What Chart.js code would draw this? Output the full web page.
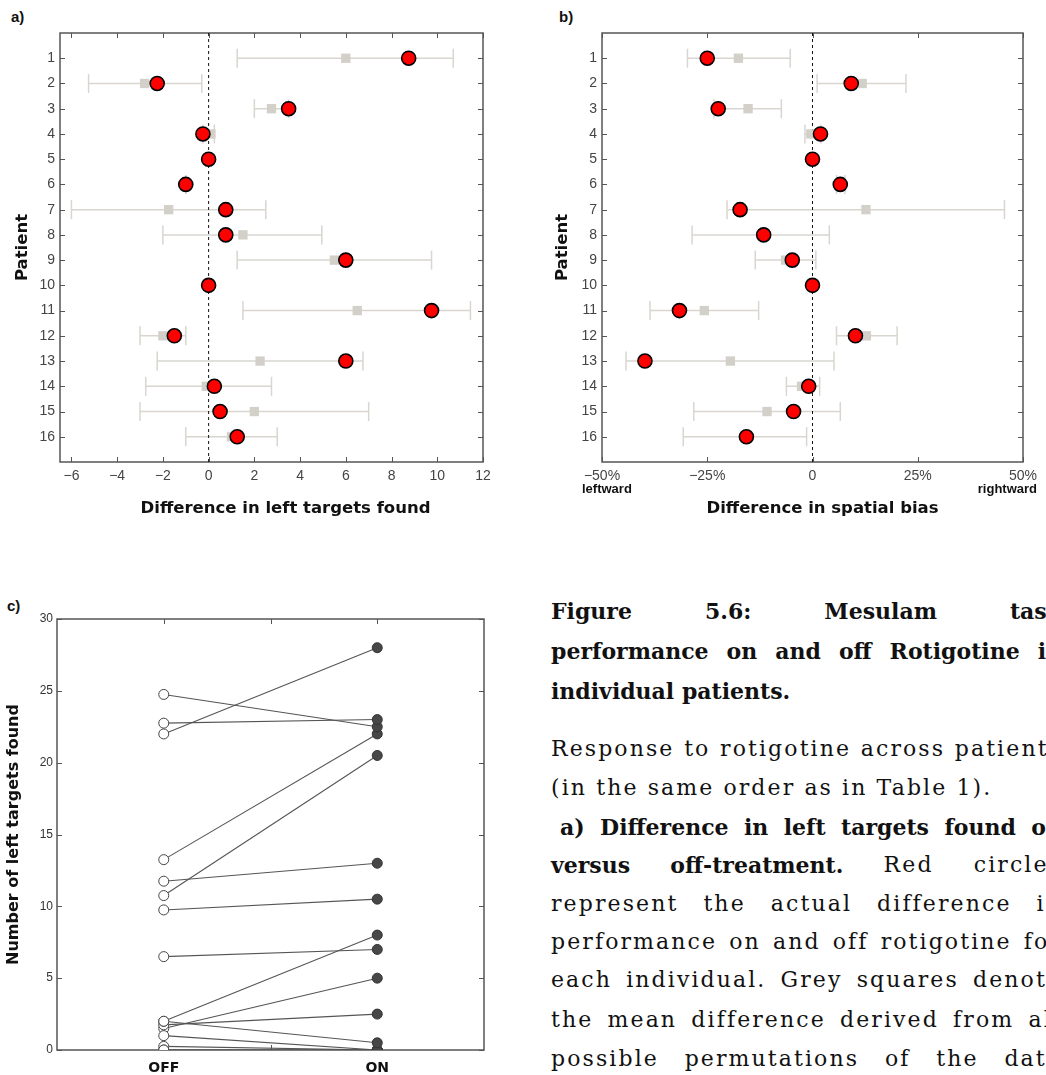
<!DOCTYPE html>
<html><head><meta charset="utf-8">
<script src="https://cdn.jsdelivr.net/npm/chart.js@4/dist/chart.umd.min.js"></script>
<style>
html,body{margin:0;padding:0;background:#fff;overflow:hidden;width:1046px;height:1075px;position:relative;}
.panel{position:absolute;}
.plab{position:absolute;font:bold 15px "Liberation Sans",Arial,sans-serif;color:#111;}
.ln{position:absolute;left:551px;width:511px;height:38px;line-height:38px;font-family:"DejaVu Serif",serif;font-size:22px;color:#111;white-space:nowrap;display:flex;}
.ln.j{justify-content:space-between;}
.ln span.w{white-space:pre;}
</style></head><body>
<div class="plab" style="left:11px;top:8px">a)</div>
<div class="plab" style="left:559px;top:8px">b)</div>
<div class="plab" style="left:7px;top:597px">c)</div>
<canvas id="ca" class="panel" width="520" height="530" style="left:0;top:0"></canvas>
<canvas id="cb" class="panel" width="526" height="530" style="left:520px;top:0"></canvas>
<canvas id="cc" class="panel" width="520" height="500" style="left:0;top:590px"></canvas>
<script>
// ---------- data ----------
const patients = [1,2,3,4,5,6,7,8,9,10,11,12,13,14,15,16];
// panel a: difference in left targets found (ON - OFF)
const aActual   = [8.75,-2.25,3.5,-0.25,0,-1,0.75,0.75,6,0,9.75,-1.5,6,0.25,0.5,1.25];
const aPermMean = [6,-2.8,2.75,0.1,null,-1,-1.75,1.5,5.5,null,6.5,-2,2.25,-0.1,2,1];
const aLow      = [1.25,-5.25,2,-0.25,null,-1,-6,-2,1.25,null,1.5,-3,-2.25,-2.75,-3,-1];
const aHigh     = [10.7,-0.3,3.5,0.25,null,-1,2.5,4.95,9.75,null,11.45,-1,6.75,2.75,7,3];
const aXTicks   = [-6,-4,-2,0,2,4,6,8,10,12];
// panel b: difference in spatial bias (%)
const bActual   = [-25,9.2,-22.4,1.9,0,6.6,-17.2,-11.6,-4.8,0,-31.6,10.2,-39.8,-0.9,-4.5,-15.7];
const bPermMean = [-17.6,11.8,-15.3,-0.4,null,6.6,12.7,-11.6,-6.4,null,-25.7,12.8,-19.5,-2.6,-10.8,-15.7];
const bLow      = [-29.7,1.1,-23.4,-1.8,null,5.7,-20.3,-28.6,-13.6,null,-38.6,5.7,-44.3,-6.2,-28.2,-30.7];
const bHigh     = [-5.3,22.2,-7.4,2,null,7.7,45.6,4,0.8,null,-12.8,20.1,5.1,1.7,6.6,-1.4];
const bXTicks   = [-50,-25,0,25,50];
// panel c: number of left targets found OFF / ON
const cOff = [13.25,24.75,1.5,0.25,0,1,1.75,9.75,2,0,10.75,2,22,22.75,6.5,11.75];
const cOn  = [22,22.5,5,0,0,0,2.5,10.5,8,0,20.5,0.5,28,23,7,13];
const cCats = ['OFF','ON'];
const cYTicks = [0,5,10,15,20,25,30];

// ---------- helpers ----------
const TICKFONT = {family:'"Liberation Sans", Arial, sans-serif', size:14};
const TITLEFONT = {family:'"DejaVu Sans", sans-serif', size:16.5, weight:'bold'};
const frame = {
  id:'frame',
  beforeDatasetsDraw(chart, args, o){
    const {ctx, chartArea:{left,right,top,bottom}} = chart;
    const xs = chart.scales.x, ys = chart.scales.y, L = o.len || 5;
    ctx.save();
    ctx.strokeStyle = o.color || '#555'; ctx.lineWidth = 1;
    ctx.beginPath();
    xs.ticks.forEach(t=>{const p=Math.round(xs.getPixelForValue(t.value))+0.5;
      ctx.moveTo(p,top);ctx.lineTo(p,top+L);ctx.moveTo(p,bottom);ctx.lineTo(p,bottom-L);});
    ys.ticks.forEach(t=>{const p=Math.round(ys.getPixelForValue(t.value))+0.5;
      ctx.moveTo(left,p);ctx.lineTo(left+L,p);ctx.moveTo(right,p);ctx.lineTo(right-L,p);});
    ctx.stroke();
    ctx.lineWidth = o.width || 1.5;
    ctx.strokeRect(left, top, right-left, bottom-top);
    ctx.restore();
  }
};
// x-axis title drawn slightly right of the plot centre, as in the reference
const xTitle = {
  id:'xTitle',
  afterDraw(chart, args, o){
    if(!o.text) return;
    const ctx=chart.ctx, a=chart.chartArea;
    ctx.save();
    ctx.font='bold 16.5px "DejaVu Sans", sans-serif';
    ctx.fillStyle='#111'; ctx.textAlign='center'; ctx.textBaseline='middle';
    ctx.fillText(o.text, (a.left+a.right)/2 + (o.dx||0), o.y);
    ctx.restore();
  }
};
function errorBarSets(lo, hi){
  const out=[];
  patients.forEach((p,i)=>{
    if(lo[i]==null) return;
    out.push({type:'scatter',showLine:true,data:[{x:lo[i],y:p},{x:hi[i],y:p}],
      borderColor:'#d9d6d0',borderWidth:1.5,pointStyle:'line',rotation:90,
      pointRadius:9.5,pointBorderColor:'#d9d6d0',pointBorderWidth:1.5,order:4});
  });
  return out;
}
function diffChart(id, actual, perm, lo, hi, xmin, xmax, xticks, xfmt, yw, padRight, ytitlePad, xtitle, dx, extra){
  const datasets = [
    {data:patients.map((p,i)=>({x:actual[i],y:p})),pointRadius:7,pointBackgroundColor:'#ff0000',
     pointBorderColor:'#000',pointBorderWidth:1.6,order:0},
    {data:patients.map((p,i)=>({x:perm[i],y:p})).filter(d=>d.x!=null),pointStyle:'rect',pointRadius:6.6,
     pointBackgroundColor:'#d3cfc9',pointBorderWidth:0,pointBorderColor:'#d3cfc9',order:1},
    {showLine:true,data:[{x:0,y:0},{x:0,y:17}],borderColor:'#111',borderWidth:1,borderDash:[3,3],pointRadius:0,order:2},
    ...errorBarSets(lo,hi)
  ];
  return new Chart(document.getElementById(id),{
    type:'scatter',
    data:{datasets},
    options:{
      responsive:false,animation:false,events:[],
      layout:{padding:{top:33,right:padRight,left:0,bottom:0}},
      plugins:{legend:{display:false},tooltip:{enabled:false},frame:{color:'#555',len:5,width:1.5},
               xTitle:{text:xtitle,dx:dx,y:509}},
      scales:{
        x:{type:'linear',min:xmin,max:xmax,
           afterBuildTicks:s=>{s.ticks=xticks.map(v=>({value:v}));},
           afterFit:s=>{s.height=68;},
           grid:{display:false,drawTicks:false},border:{display:false},
           ticks:{font:TICKFONT,color:'#444',padding:6,maxRotation:0,autoSkip:false,callback:xfmt}},
        y:{type:'linear',min:0,max:17,reverse:true,
           afterBuildTicks:s=>{s.ticks=patients.map(v=>({value:v}));},
           afterFit:s=>{s.width=yw;},
           grid:{display:false,drawTicks:false},border:{display:false},
           ticks:{font:TICKFONT,color:'#444',padding:5,autoSkip:false},
           title:{display:true,text:'Patient',font:TITLEFONT,color:'#111',padding:{top:ytitlePad,bottom:0}}}
      }
    },
    plugins:[frame, xTitle].concat(extra||[])
  });
}
diffChart('ca', aActual, aPermMean, aLow, aHigh, -6.5, 12, aXTicks, v=>String(v).replace('-','\u2212'), 60, 37, 13,
  'Difference in left targets found', 14);
const sideLabels = {
  id:'sideLabels',
  afterDraw(chart){
    const ctx=chart.ctx, xs=chart.scales.x;
    ctx.save();
    ctx.font='bold 13px "Liberation Sans", Arial, sans-serif';
    ctx.fillStyle='#111'; ctx.textBaseline='middle';
    ctx.textAlign='left'; ctx.fillText('leftward', xs.getPixelForValue(-50)-20, 489);
    ctx.textAlign='right'; ctx.fillText('rightward', xs.getPixelForValue(50)+14, 489);
    ctx.restore();
  }
};
diffChart('cb', bActual, bPermMean, bLow, bHigh, -50, 50, bXTicks,
  v=> v===0 ? '0' : (v<0?'\u2212':'')+Math.abs(v)+'%', 82, 23, 33, 'Difference in spatial bias', 10, [sideLabels]);

// panel c
const cSets = [
  {data:cOff.map(v=>({x:1,y:v})),pointRadius:5,pointBackgroundColor:'#fff',pointBorderColor:'#444',pointBorderWidth:1,order:0},
  {data:cOn.map(v=>({x:2,y:v})),pointRadius:5,pointBackgroundColor:'#474747',pointBorderColor:'#333',pointBorderWidth:1,order:0}
];
patients.forEach((p,i)=>cSets.push({showLine:true,data:[{x:1,y:cOff[i]},{x:2,y:cOn[i]}],
  borderColor:'#555',borderWidth:1.1,pointRadius:0,order:2}));
new Chart(document.getElementById('cc'),{
  type:'scatter',
  data:{datasets:cSets},
  options:{
    responsive:false,animation:false,events:[],
    layout:{padding:{top:29,right:36,left:0,bottom:0}},
    plugins:{legend:{display:false},tooltip:{enabled:false},frame:{color:'#555',len:5,width:1.5}},
    scales:{
      x:{type:'linear',min:0.5,max:2.5,
         afterBuildTicks:s=>{s.ticks=[1,1.5,2].map(v=>({value:v}));},
         afterFit:s=>{s.height=40;},
         grid:{display:false,drawTicks:false},border:{display:false},
         ticks:{font:{family:'"DejaVu Sans", sans-serif',size:14,weight:'bold'},color:'#111',padding:10,autoSkip:false,maxRotation:0,
           callback:v=> v===1?cCats[0]:(v===2?cCats[1]:'')}},
      y:{type:'linear',min:0,max:30,
         afterBuildTicks:s=>{s.ticks=cYTicks.map(v=>({value:v}));},
         afterFit:s=>{s.width=57;},
         grid:{display:false,drawTicks:false},border:{display:false},
         ticks:{font:{family:'"Liberation Sans", Arial, sans-serif',size:12},color:'#333',padding:4,autoSkip:false},
         title:{display:true,text:'Number of left targets found',font:{family:'"DejaVu Sans", sans-serif',size:16,weight:'bold'},color:'#111',padding:{top:4,bottom:0}}}
    }
  },
  plugins:[frame]
});

// ---------- caption ----------
const captionLines = [
  {b:619, j:true,  parts:[['b','Figure 5.6: Mesulam task']]},
  {b:659, j:true,  parts:[['b','performance on and off Rotigotine in']]},
  {b:699, j:false, parts:[['b','individual patients.']]},
  {b:757, j:true,  parts:[['r','Response to rotigotine across patients']]},
  {b:796, j:false, parts:[['r','(in the same order as in Table 1).']]},
  {b:835, j:true,  indent:9, parts:[['b','a) Difference in left targets found on']]},
  {b:873, j:true,  parts:[['b','versus off-treatment.'],['r','Red circles']]},
  {b:912, j:true,  parts:[['r','represent the actual difference in']]},
  {b:950, j:true,  parts:[['r','performance on and off rotigotine for']]},
  {b:988, j:true,  parts:[['r','each individual. Grey squares denote']]},
  {b:1028,j:true,  parts:[['r','the mean difference derived from all']]},
  {b:1067,j:true,  parts:[['r','possible permutations of the data']]}
];
captionLines.forEach(l=>{
  const d=document.createElement('div');
  d.className='ln'+(l.j?' j':'');
  d.style.top=(l.b-27)+'px';
  if(l.indent){d.style.left=(551+l.indent)+'px';d.style.width=(511-l.indent)+'px';}
  const words=[];
  l.parts.forEach(([w,t])=>t.split(' ').forEach(x=>words.push([w,x])));
  words.forEach(([w,x],k)=>{
    const s=document.createElement('span');
    s.className='w';
    s.textContent = (!l.j && k<words.length-1) ? x+' ' : x;
    if(w==='b'){s.style.fontWeight='bold';} else {s.style.letterSpacing='2.1px';}
    d.appendChild(s);
  });
  document.body.appendChild(d);
});
</script>
</body></html>
